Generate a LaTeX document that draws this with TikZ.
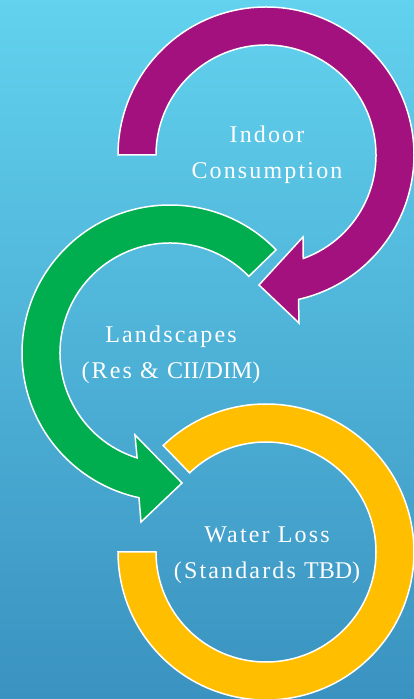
\documentclass[tikz,border=0pt]{standalone}
\usepackage{fontspec}
\setmainfont{Liberation Serif}[LetterSpace=9]
\newfontfamily\tightserif{Liberation Serif}[LetterSpace=0]
\definecolor{bgtop}{RGB}{98,210,238}
\definecolor{bgbot}{RGB}{58,146,192}
\definecolor{arrpurple}{RGB}{163,17,126}
\definecolor{arrgreen}{RGB}{0,173,79}
\definecolor{arryellow}{RGB}{255,191,0}
\tikzset{
  ringarrow/.style={draw=white, line width=1.5pt, line join=miter},
  ringlabel/.style={text=white, align=center, font=\fontsize{24}{36}\selectfont}
}
\begin{document}
\begin{tikzpicture}[x=1pt,y=1pt]
\useasboundingbox (0,0) rectangle (414,699);
\shade[top color=bgtop, bottom color=bgbot] (0,0) rectangle (414,699);
\coordinate (P) at (266,544);
\coordinate (G) at (170,346);
\coordinate (Y) at (266,147);
% purple
\path[ringarrow, fill=arrpurple]
  ([shift={(180:148)}]P) arc[start angle=180, end angle=-77.3, radius=148]
  -- (299,376) -- (259,414) -- (303,462)
  -- ([shift={(-70.2:110)}]P) arc[start angle=-70.2, end angle=180, radius=110]
  -- cycle;
% green
\path[ringarrow, fill=arrgreen]
  ([shift={(44.2:148)}]G) arc[start angle=44.2, end angle=257.9, radius=148]
  -- (141,177) -- (182,216) -- (135,264)
  -- ([shift={(252.6:110)}]G) arc[start angle=252.6, end angle=44.2, radius=110]
  -- cycle;
% yellow
\path[ringarrow, fill=arryellow]
  ([shift={(134:148)}]Y) arc[start angle=134, end angle=-180, radius=148]
  -- ([shift={(-180:110)}]Y) arc[start angle=-180, end angle=134, radius=110]
  -- cycle;
\node[ringlabel] (t1) at (267,544) {Indoor\\Consumption};
\node[ringlabel] (t2) at (171,344) {Landscapes\\(Res \& {\tightserif CII/DIM})};
\node[ringlabel] (t3) at (267,144) {Water Loss\\(Standards {\tightserif TBD})};
\end{tikzpicture}
\end{document}
